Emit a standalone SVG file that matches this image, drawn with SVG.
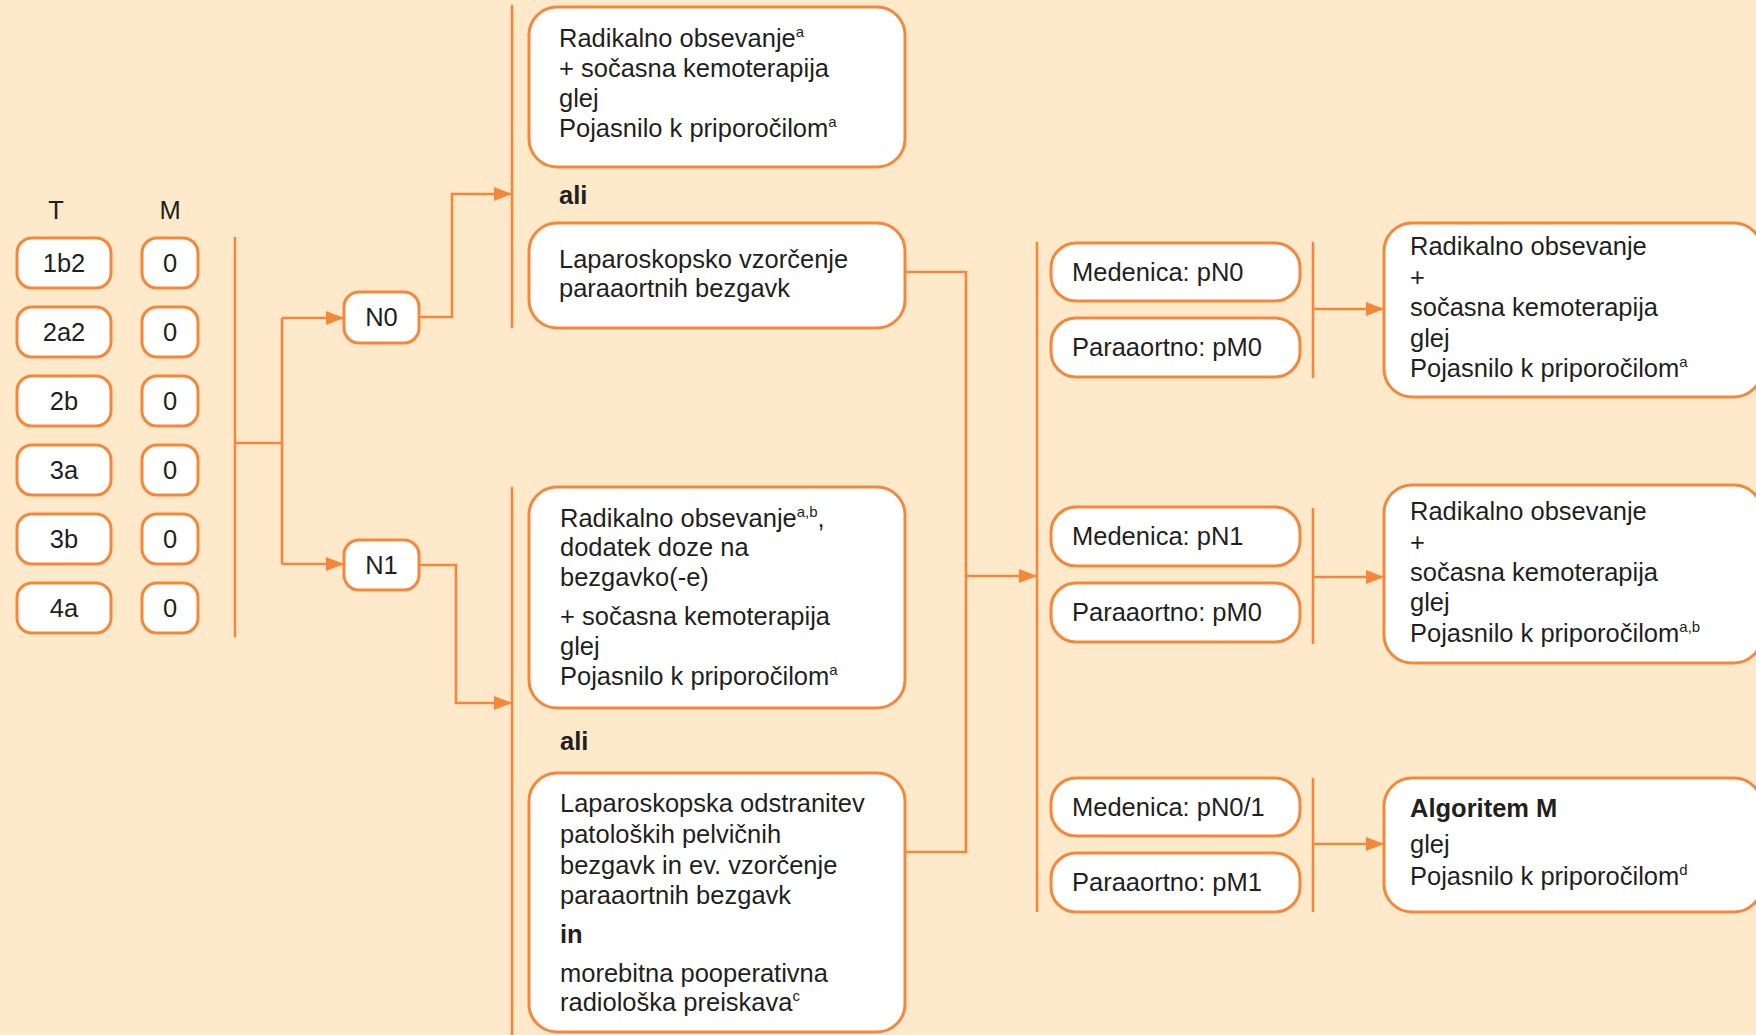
<svg xmlns="http://www.w3.org/2000/svg" width="1756" height="1035" viewBox="0 0 1756 1035">
<style>
.bg{fill:#FEEACB}
.box{fill:#FFFFFF;stroke:#F4873A;stroke-width:3}
.ln{fill:none;stroke:#F4873A;stroke-width:2.6}
text{font-family:"Liberation Sans",Arial,sans-serif;font-size:25.5px;fill:#231F20}
.c{text-anchor:middle}
.b{font-weight:bold}
.sup{font-size:15px}
</style>
<defs>
<marker id="ah" viewBox="0 0 18 14" refX="18" refY="7" markerWidth="18" markerHeight="14" markerUnits="userSpaceOnUse" orient="auto">
<path d="M0,0 L18,7 L0,14 Z" fill="#F4873A"/>
</marker>
</defs>
<rect class="bg" x="0" y="0" width="1756" height="1035"/>

<g id="connectors">
<path class="ln" d="M235,237 V637"/>
<path class="ln" d="M235,443 H282"/>
<path class="ln" d="M282,318 V564"/>
<path class="ln" d="M282,318 H344" marker-end="url(#ah)"/>
<path class="ln" d="M282,564 H344" marker-end="url(#ah)"/>
<path class="ln" d="M419,317 H452 V194 H512" marker-end="url(#ah)"/>
<path class="ln" d="M512,5 V328"/>
<path class="ln" d="M419,565 H456 V703 H512" marker-end="url(#ah)"/>
<path class="ln" d="M512,487 V1035"/>
<path class="ln" d="M905,272 H966 V852 H905"/>
<path class="ln" d="M966,576 H1037" marker-end="url(#ah)"/>
<path class="ln" d="M1037,242 V912"/>
<path class="ln" d="M1313,242 V378"/>
<path class="ln" d="M1313,508 V644"/>
<path class="ln" d="M1313,778 V912"/>
<path class="ln" d="M1313,309 H1384" marker-end="url(#ah)"/>
<path class="ln" d="M1313,577 H1384" marker-end="url(#ah)"/>
<path class="ln" d="M1313,844 H1384" marker-end="url(#ah)"/>
</g>

<g id="headers">
<text class="c" x="56" y="219">T</text>
<text class="c" x="170" y="219">M</text>
</g>

<g id="t-1b2"><rect class="box" x="17" y="238" width="94" height="50" rx="15"/><text class="c" x="64" y="272">1b2</text></g>
<g id="t-2a2"><rect class="box" x="17" y="307" width="94" height="50" rx="15"/><text class="c" x="64" y="341">2a2</text></g>
<g id="t-2b"><rect class="box" x="17" y="376" width="94" height="50" rx="15"/><text class="c" x="64" y="410">2b</text></g>
<g id="t-3a"><rect class="box" x="17" y="445" width="94" height="50" rx="15"/><text class="c" x="64" y="479">3a</text></g>
<g id="t-3b"><rect class="box" x="17" y="514" width="94" height="50" rx="15"/><text class="c" x="64" y="548">3b</text></g>
<g id="t-4a"><rect class="box" x="17" y="583" width="94" height="50" rx="15"/><text class="c" x="64" y="617">4a</text></g>

<g id="m-1"><rect class="box" x="142" y="238" width="56" height="50" rx="15"/><text class="c" x="170" y="272">0</text></g>
<g id="m-2"><rect class="box" x="142" y="307" width="56" height="50" rx="15"/><text class="c" x="170" y="341">0</text></g>
<g id="m-3"><rect class="box" x="142" y="376" width="56" height="50" rx="15"/><text class="c" x="170" y="410">0</text></g>
<g id="m-4"><rect class="box" x="142" y="445" width="56" height="50" rx="15"/><text class="c" x="170" y="479">0</text></g>
<g id="m-5"><rect class="box" x="142" y="514" width="56" height="50" rx="15"/><text class="c" x="170" y="548">0</text></g>
<g id="m-6"><rect class="box" x="142" y="583" width="56" height="50" rx="15"/><text class="c" x="170" y="617">0</text></g>

<g id="n0"><rect class="box" x="344" y="292" width="75" height="51" rx="15"/><text class="c" x="381.5" y="326">N0</text></g>
<g id="n1"><rect class="box" x="344" y="540" width="75" height="50" rx="15"/><text class="c" x="381.5" y="574">N1</text></g>

<g id="opt-radio-n0">
<rect class="box" x="529" y="7" width="376" height="160" rx="28"/>
<text x="559" y="47">Radikalno obsevanje<tspan class="sup" dy="-10">a</tspan></text>
<text x="559" y="77">+ sočasna kemoterapija</text>
<text x="559" y="107">glej</text>
<text x="559" y="137">Pojasnilo k priporočilom<tspan class="sup" dy="-10">a</tspan></text>
</g>
<g id="ali-1"><text class="b" x="559" y="204">ali</text></g>
<g id="opt-lap-n0">
<rect class="box" x="529" y="223" width="376" height="105" rx="28"/>
<text x="559" y="268">Laparoskopsko vzorčenje</text>
<text x="559" y="297">paraaortnih bezgavk</text>
</g>

<g id="opt-radio-n1">
<rect class="box" x="529" y="487" width="376" height="221" rx="28"/>
<text x="560" y="527">Radikalno obsevanje<tspan class="sup" dy="-10">a,b</tspan><tspan dy="10">,</tspan></text>
<text x="560" y="556">dodatek doze na</text>
<text x="560" y="586">bezgavko(-e)</text>
<text x="560" y="625">+ sočasna kemoterapija</text>
<text x="560" y="655">glej</text>
<text x="560" y="685">Pojasnilo k priporočilom<tspan class="sup" dy="-10">a</tspan></text>
</g>
<g id="ali-2"><text class="b" x="560" y="750">ali</text></g>
<g id="opt-lap-n1">
<rect class="box" x="529" y="773" width="376" height="259" rx="28"/>
<text x="560" y="812">Laparoskopska odstranitev</text>
<text x="560" y="843">patoloških pelvičnih</text>
<text x="560" y="874">bezgavk in ev. vzorčenje</text>
<text x="560" y="904">paraaortnih bezgavk</text>
<text class="b" x="560" y="943">in</text>
<text x="560" y="982">morebitna pooperativna</text>
<text x="560" y="1011">radiološka preiskava<tspan class="sup" dy="-10">c</tspan></text>
</g>

<g id="med-pn0"><rect class="box" x="1051" y="243" width="249" height="58" rx="25"/><text x="1072" y="281">Medenica: pN0</text></g>
<g id="para-pm0-a"><rect class="box" x="1051" y="318" width="249" height="59" rx="25"/><text x="1072" y="356">Paraaortno: pM0</text></g>
<g id="med-pn1"><rect class="box" x="1051" y="507" width="249" height="59" rx="25"/><text x="1072" y="545">Medenica: pN1</text></g>
<g id="para-pm0-b"><rect class="box" x="1051" y="583" width="249" height="59" rx="25"/><text x="1072" y="621">Paraaortno: pM0</text></g>
<g id="med-pn01"><rect class="box" x="1051" y="778" width="249" height="58" rx="25"/><text x="1072" y="816">Medenica: pN0/1</text></g>
<g id="para-pm1"><rect class="box" x="1051" y="853" width="249" height="59" rx="25"/><text x="1072" y="891">Paraaortno: pM1</text></g>

<g id="res-1">
<rect class="box" x="1384" y="223" width="378" height="174" rx="28"/>
<text x="1410" y="255">Radikalno obsevanje</text>
<text x="1410" y="286">+</text>
<text x="1410" y="316">sočasna kemoterapija</text>
<text x="1410" y="347">glej</text>
<text x="1410" y="377">Pojasnilo k priporočilom<tspan class="sup" dy="-10">a</tspan></text>
</g>
<g id="res-2">
<rect class="box" x="1384" y="485" width="378" height="178" rx="28"/>
<text x="1410" y="520">Radikalno obsevanje</text>
<text x="1410" y="551">+</text>
<text x="1410" y="581">sočasna kemoterapija</text>
<text x="1410" y="611">glej</text>
<text x="1410" y="642">Pojasnilo k priporočilom<tspan class="sup" dy="-10">a,b</tspan></text>
</g>
<g id="res-3">
<rect class="box" x="1384" y="778" width="378" height="134" rx="28"/>
<text class="b" x="1410" y="817">Algoritem M</text>
<text x="1410" y="853">glej</text>
<text x="1410" y="885">Pojasnilo k priporočilom<tspan class="sup" dy="-10">d</tspan></text>
</g>
</svg>
